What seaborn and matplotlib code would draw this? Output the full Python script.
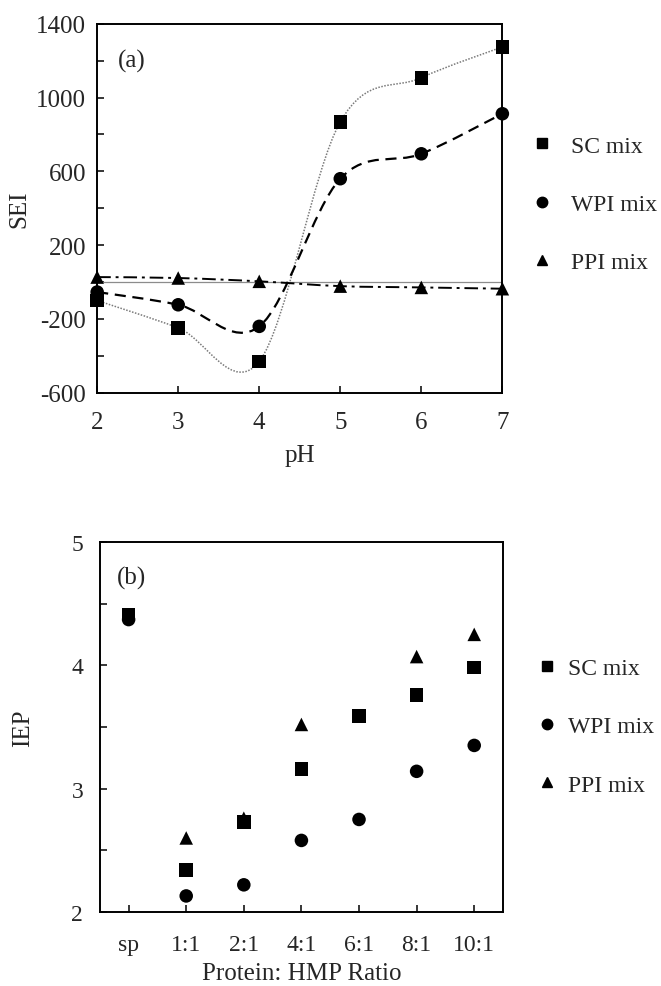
import numpy as np
import pandas as pd
import matplotlib
matplotlib.use("Agg")
import matplotlib.pyplot as plt
import seaborn as sns
from matplotlib.path import Path
from matplotlib.patches import PathPatch
from matplotlib.lines import Line2D
from matplotlib.ticker import FixedLocator

# ===============================
# DATA
# ===============================
ph = [2, 3, 4, 5, 6, 7]
sei_sc = [-100, -248, -430, 868, 1107, 1274]
sei_wpi = [-54, -123, -240, 560, 695, 912]
sei_ppi = [27, 22, 4, -22, -29, -36]

ratios = ["sp", "1:1", "2:1", "4:1", "6:1", "8:1", "10:1"]
iep_sc = [4.41, 2.34, 2.73, 3.16, 3.59, 3.76, 3.98]
iep_wpi = [4.37, 2.13, 2.22, 2.58, 2.75, 3.14, 3.35]
iep_ppi = [np.nan, 2.60, 2.76, 3.52, np.nan, 4.07, 4.25]

series = ["SC mix", "WPI mix", "PPI mix"]
markers = {"SC mix": "s", "WPI mix": "o", "PPI mix": "^"}

# ===============================
# STYLE
# ===============================
sns.set_style("ticks")
plt.rcParams['font.family'] = ['Liberation Serif', 'DejaVu Serif']
plt.rcParams['axes.unicode_minus'] = False
plt.rcParams['xtick.direction'] = 'in'
plt.rcParams['ytick.direction'] = 'in'


def smooth_path(xs, ys):
    # Excel-style smoothed line: cubic Bezier through the points
    pts = np.column_stack([xs, ys]).astype(float)
    n = len(pts)
    verts = [pts[0]]
    codes = [Path.MOVETO]
    for i in range(n - 1):
        p0 = pts[max(i - 1, 0)]
        p1 = pts[i]
        p2 = pts[i + 1]
        p3 = pts[min(i + 2, n - 1)]
        verts += [p1 + (p2 - p0) / 6, p2 - (p3 - p1) / 6, p2]
        codes += [Path.CURVE4] * 3
    return Path(verts, codes)


fig = plt.figure(figsize=(6.61, 9.87), dpi=100)

# ===============================
# (a) SEI vs pH
# ===============================
ax1 = fig.add_axes([0.147, 0.601, 0.613, 0.374])
df_a = pd.DataFrame({"pH": ph * 3,
                     "SEI": sei_sc + sei_wpi + sei_ppi,
                     "mix": sum([[s] * len(ph) for s in series], [])})

ax1.axhline(0, color="#8c8c8c", lw=0.9, zorder=1)
line_styles = {"SC mix": dict(color="#7a7a7a", ls=(0, (1, 1)), lw=1.1),
               "WPI mix": dict(color="black", ls=(0, (5, 3)), lw=1.6),
               "PPI mix": dict(color="black", ls=(0, (7, 2.5, 1.5, 2.5)), lw=1.4)}
for s, vals in zip(series, [sei_sc, sei_wpi, sei_ppi]):
    ax1.add_patch(PathPatch(smooth_path(ph, vals), fill=False, zorder=2,
                            **line_styles[s]))

sns.scatterplot(data=df_a, x="pH", y="SEI", style="mix", markers=markers,
                style_order=series, color="black", s=95, edgecolor="none",
                legend=False, ax=ax1, zorder=3, clip_on=False)

ax1.set_xlim(2, 7)
ax1.set_ylim(-600, 1400)
ax1.xaxis.set_major_locator(FixedLocator(ph))
ax1.yaxis.set_major_locator(FixedLocator(np.arange(-600, 1401, 400)))
ax1.yaxis.set_minor_locator(FixedLocator(np.arange(-400, 1401, 400)))
ax1.tick_params(axis="both", which="both", length=5, width=1.1, color="black")
ax1.tick_params(axis="y", labelsize=18, pad=8)
ax1.tick_params(axis="x", labelsize=18, pad=13)
ax1.set_xlabel("pH", fontsize=18, labelpad=8)
ax1.set_ylabel("SEI", fontsize=18, labelpad=4)
ax1.text(0.05, 0.90, "(a)", transform=ax1.transAxes, fontsize=18, va="center")
for sp in ax1.spines.values():
    sp.set_linewidth(1.4)
    sp.set_color("black")

# ===============================
# (b) IEP vs Protein: HMP ratio
# ===============================
ax2 = fig.add_axes([0.151, 0.075, 0.610, 0.375])
df_b = pd.DataFrame({"ratio": list(range(len(ratios))) * 3,
                     "IEP": iep_sc + iep_wpi + iep_ppi,
                     "mix": sum([[s] * len(ratios) for s in series], [])})

for s in ["PPI mix", "WPI mix", "SC mix"]:
    sns.scatterplot(data=df_b[df_b["mix"] == s], x="ratio", y="IEP",
                    marker=markers[s], color="black", s=95, edgecolor="none",
                    legend=False, ax=ax2, zorder=3)

ax2.set_xlim(-0.5, 6.5)
ax2.set_ylim(2, 5)
ax2.set_xticks(range(len(ratios)))
ax2.set_xticklabels(ratios)
ax2.yaxis.set_major_locator(FixedLocator([2, 3, 4, 5]))
ax2.yaxis.set_minor_locator(FixedLocator([2.5, 3.5, 4.5]))
ax2.tick_params(axis="both", which="both", length=5, width=1.1, color="black")
ax2.tick_params(axis="y", labelsize=17, pad=12)
ax2.tick_params(axis="x", labelsize=17, pad=16)
ax2.set_xlabel("Protein: HMP Ratio", fontsize=18, labelpad=5)
ax2.set_ylabel("IEP", fontsize=18, labelpad=27)
ax2.text(0.042, 0.905, "(b)", transform=ax2.transAxes, fontsize=18, va="center")
for sp in ax2.spines.values():
    sp.set_linewidth(1.4)
    sp.set_color("black")

# ===============================
# LEGENDS
# ===============================
handles = [Line2D([], [], ls="none", marker=markers[s], color="black",
                  markersize=7.5) for s in series]
fig.legend(handles, series, loc="center left", bbox_to_anchor=(0.802, 0.792),
           frameon=False, fontsize=17, handlelength=1.0, handletextpad=0.75,
           labelspacing=1.56, borderpad=0, borderaxespad=0)
fig.legend(handles, series, loc="center left", bbox_to_anchor=(0.809, 0.263),
           frameon=False, fontsize=17, handlelength=1.0, handletextpad=0.4,
           labelspacing=1.56, borderpad=0, borderaxespad=0)

fig.savefig("out.png", dpi=100, facecolor="white")
